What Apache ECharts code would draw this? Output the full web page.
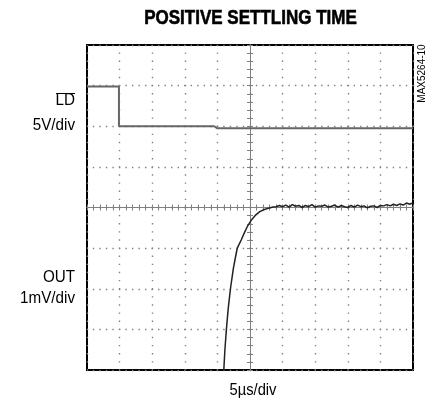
<!DOCTYPE html>
<html>
<head>
<meta charset="utf-8">
<script src="https://cdn.jsdelivr.net/npm/echarts@6/dist/echarts.min.js"></script>
<style>html,body{margin:0;padding:0;background:#fff}#c{width:427px;height:400px}</style>
</head>
<body>
<div id="c"></div>
<script>
// time in microseconds (5 µs/div), level in screen divisions from centre
const ldTime  = [-25, -20.1, -20.1, -5.5, -5.0, 25];
const ldLevel = [2.98, 2.98, 2.0, 2.0, 1.95, 1.95];

const outTime  = [-4.05, -3.85, -3.62, -3.35, -3.0, -2.55, -2.2, -1.95, -1.35, -0.8, -0.35, 0.25, 0.9, 1.5, 2.2, 3.0, 3.5,
  4, 4.5, 5, 5.5, 6, 6.5, 7, 7.5, 8, 8.5, 9, 9.5, 10, 10.5, 11, 11.5, 12, 12.5, 13, 13.5,
  14, 14.5, 15, 15.5, 16, 16.5, 17, 17.5, 18, 18.5, 19, 19.5, 20, 20.5, 21, 21.5, 22, 22.5,
  23, 23.5, 24, 24.5, 25];
const outLevel = [-4.1, -3.5, -3.0, -2.5, -2.0, -1.5, -1.2, -1.0, -0.8, -0.6, -0.45, -0.3, -0.18, -0.1, -0.05, -0.01, 0.01,
  0.02, 0.05, 0.02, 0.06, 0.01, 0.07, 0.03, 0.05, 0.00, 0.05, 0.02, 0.07, 0.01, 0.04, 0.03, 0.06, 0.01, 0.03, 0.06, 0.01,
  0.05, 0.02, 0.00, 0.05, 0.01, 0.06, 0.02, 0.04, -0.01, 0.03, 0.04, 0.00, 0.05, 0.04, 0.07, 0.04, 0.08, 0.05,
  0.09, 0.06, 0.11, 0.08, 0.12];

const titleText = 'POSITIVE SETTLING TIME';
const xLabel = '5µs/div';
const ldName = 'LD', ldScale = '5V/div';
const outName = 'OUT', outScale = '1mV/div';
const partId = 'MAX5264-10';

const pair = (a, b) => a.map((v, i) => [v, b[i]]);
const font = '"Liberation Sans", Arial, sans-serif';
const gridC = '#808080';

const chart = echarts.init(document.getElementById('c'), null, {renderer: 'canvas'});

function centerAxis(extra) {
  return Object.assign({
    type: 'value', gridIndex: 0,
    axisLabel: {show: false},
    axisLine: {show: true, onZero: true, lineStyle: {color: gridC, width: 1}},
    axisTick: {show: true, inside: true, length: 3, lineStyle: {color: gridC, width: 1}},
    minorTick: {show: true, splitNumber: 5, length: 3, lineStyle: {color: gridC, width: 1}},
    splitLine: {show: false}
  }, extra);
}

chart.setOption({
  animation: false,
  backgroundColor: '#fff',
  grid: {left: 87, right: 14, top: 45, bottom: 30, show: true, borderColor: '#000', borderWidth: 2, backgroundColor: 'transparent'},
  xAxis: [
    centerAxis({min: -25, max: 25, interval: 5, position: 'bottom',
      splitLine: {show: true, lineStyle: {color: gridC, width: 1.4, type: [1.4, 6.725], dashOffset: 0.7}}}),
    centerAxis({min: -25, max: 25, interval: 5, position: 'top'})
  ],
  yAxis: [
    centerAxis({min: -4, max: 4, interval: 1, position: 'left',
      splitLine: {show: true, lineStyle: {color: gridC, width: 1.4, type: [1.4, 5.12], dashOffset: 0.7}}}),
    centerAxis({min: -4, max: 4, interval: 1, position: 'right'})
  ],
  series: [
    {type: 'line', name: ldName, data: pair(ldTime, ldLevel), showSymbol: false, clip: true,
      lineStyle: {color: '#666', width: 2}, z: 5},
    {type: 'line', name: outName, data: pair(outTime, outLevel), showSymbol: false, clip: true,
      lineStyle: {color: '#222', width: 1.5}, z: 6}
  ],
  graphic: [
    {type: 'text', x: 250.5, y: 18.5, scaleX: 0.83, style: {text: titleText, font: 'bold 20.5px ' + font, fill: '#000', stroke: '#000', lineWidth: 0.6, align: 'center', verticalAlign: 'middle'}},
    {type: 'text', x: 75, y: 109, scaleX: 0.95, style: {text: ldName, font: '16px ' + font, fill: '#000', align: 'right', verticalAlign: 'bottom'}},
    {type: 'line', shape: {x1: 56, y1: 93.5, x2: 75, y2: 93.5}, style: {stroke: '#000', lineWidth: 1}},
    {type: 'text', x: 75, y: 125.5, scaleX: 0.95, style: {text: ldScale, font: '16px ' + font, fill: '#000', align: 'right', verticalAlign: 'middle'}},
    {type: 'text', x: 75, y: 278, scaleX: 0.95, style: {text: outName, font: '16px ' + font, fill: '#000', align: 'right', verticalAlign: 'middle'}},
    {type: 'text', x: 75, y: 299, scaleX: 0.95, style: {text: outScale, font: '16px ' + font, fill: '#000', align: 'right', verticalAlign: 'middle'}},
    {type: 'text', x: 253, y: 391, scaleX: 0.92, style: {text: xLabel, font: '16px ' + font, fill: '#000', align: 'center', verticalAlign: 'middle'}},
    {type: 'text', x: 422.5, y: 73.5, rotation: Math.PI / 2, style: {text: partId, font: '10px ' + font, fill: '#000', align: 'center', verticalAlign: 'middle'}}
  ]
});
</script>
</body>
</html>
